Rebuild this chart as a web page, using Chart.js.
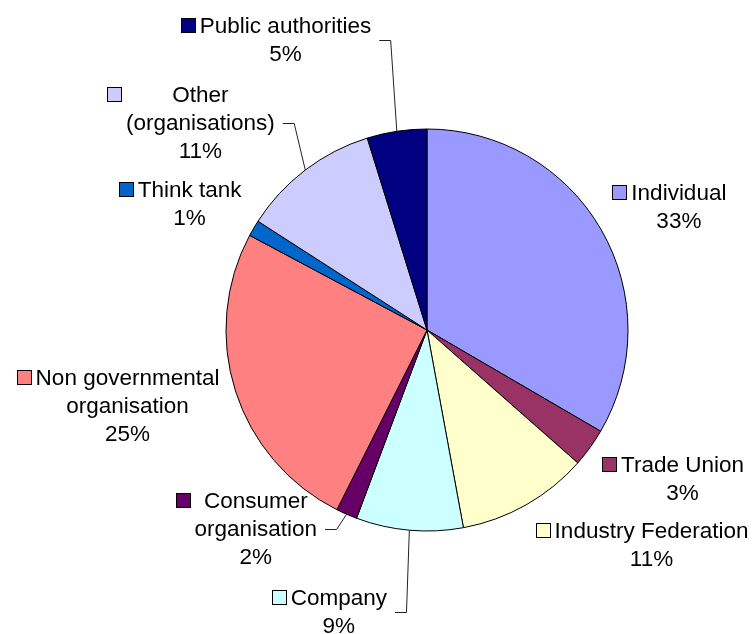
<!DOCTYPE html>
<html>
<head>
<meta charset="utf-8">
<script src="https://cdn.jsdelivr.net/npm/chart.js@4/dist/chart.umd.min.js"></script>
<style>
  html, body { margin: 0; padding: 0; background: #ffffff; }
  #wrap { width: 755px; height: 634px; }
</style>
</head>
<body>
<div id="wrap"><canvas id="c" width="755" height="634"></canvas></div>
<script>
// ---- data ----
const categories = ["Individual", "Trade Union", "Industry Federation", "Company",
  "Consumer organisation", "Non governmental organisation", "Think tank",
  "Other (organisations)", "Public authorities"];
const shares = [33.4, 3.1, 10.6, 8.6, 1.7, 25.4, 1.3, 11.1, 4.8];

// ---- styling / layout (not data) ----
const sliceColors = ["#9999FF", "#993366", "#FFFFCC", "#CCFFFF", "#660066",
  "#FF8080", "#0066CC", "#CCCCFF", "#000080"];
const labelLines = [["Individual"], ["Trade Union"], ["Industry Federation"], ["Company"],
  ["Consumer", "organisation"], ["Non governmental", "organisation"], ["Think tank"],
  ["Other", "(organisations)"], ["Public authorities"]];
// label text centre / first baseline offset relative to slice's outer mid-point
const labelDX = [77.6, 92.5, 125.5, -70.5, -90.8, -107.9, -64.1, -105, -111.3];
const labelDY = [-29.9, 24.1, 33.4, 74.8, -5.9, -5.9, -31.5, -68.3, -98];
const hasLeader = [false, false, false, true, true, false, false, true, true];

const FONT = '22.5px "Liberation Sans", Arial, sans-serif';
const LINE_H = 28;

const labelPlugin = {
  id: 'outsideLabels',
  afterDatasetsDraw(chart) {
    const ctx = chart.ctx;
    const meta = chart.getDatasetMeta(0);
    const vals = chart.data.datasets[0].data;
    const total = vals.reduce((a, b) => a + b, 0);
    ctx.save();
    ctx.font = FONT;
    ctx.textBaseline = 'alphabetic';
    meta.data.forEach((arc, i) => {
      const p = arc.getProps(['x', 'y', 'startAngle', 'endAngle', 'outerRadius'], true);
      const mid = (p.startAngle + p.endAngle) / 2;
      const ex = p.x + Math.cos(mid) * p.outerRadius;
      const ey = p.y + Math.sin(mid) * p.outerRadius;
      const cx = ex + labelDX[i];
      const b1 = ey + labelDY[i];
      const lines = labelLines[i].concat([Math.round(vals[i] / total * 100) + '%']);
      let maxW = 0;
      lines.forEach(t => { maxW = Math.max(maxW, ctx.measureText(t).width); });
      ctx.fillStyle = '#000';
      ctx.textAlign = 'center';
      lines.forEach((t, k) => ctx.fillText(t, cx, b1 + k * LINE_H));
      // legend key
      const keyR = cx - maxW / 2 - 5;
      const ks = 14;
      const kx = Math.round(keyR - ks) + 0.5;
      const ky = Math.round(b1 - ks) - 0.5;
      ctx.fillStyle = sliceColors[i];
      ctx.fillRect(kx, ky, ks, ks);
      ctx.strokeStyle = '#000';
      ctx.lineWidth = 1;
      ctx.strokeRect(kx, ky, ks, ks);
      // leader line
      if (hasLeader[i]) {
        const lastB = b1 + (lines.length - 1) * LINE_H;
        const ly = Math.round((b1 + lastB) / 2 - 7) + 0.5;
        const lx0 = cx + maxW / 2 + 8;
        ctx.beginPath();
        ctx.moveTo(lx0, ly);
        ctx.lineTo(lx0 + 11.5, ly);
        ctx.lineTo(ex, ey);
        ctx.strokeStyle = '#222';
        ctx.lineWidth = 1;
        ctx.stroke();
      }
    });
    ctx.restore();
  }
};

new Chart(document.getElementById('c'), {
  type: 'pie',
  data: {
    labels: categories,
    datasets: [{
      data: shares,
      backgroundColor: sliceColors,
      borderColor: '#000000',
      borderWidth: 1
    }]
  },
  options: {
    responsive: false,
    animation: false,
    radius: 201,
    layout: { padding: { left: 99, right: 0, top: 26, bottom: 0 } },
    plugins: { legend: { display: false }, tooltip: { enabled: false } }
  },
  plugins: [labelPlugin]
});
</script>
</body>
</html>
